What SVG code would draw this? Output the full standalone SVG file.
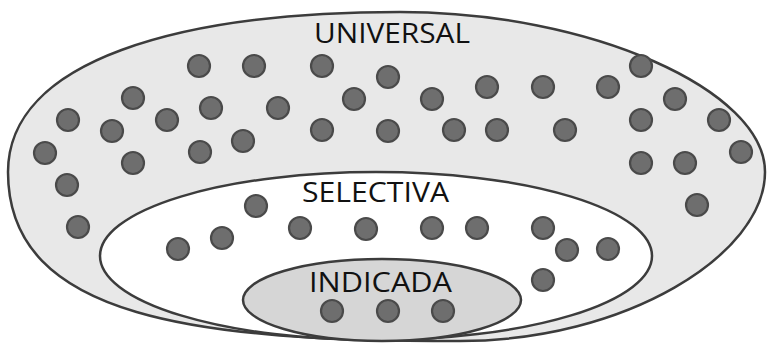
<svg xmlns="http://www.w3.org/2000/svg" width="768" height="344" viewBox="0 0 768 344">
<style>
.ring{stroke:#3c3c3c;stroke-width:2.5}
.dot{fill:#6e6e6e;stroke:#4a4a4a;stroke-width:2.2}
.lbl{font-family:"Open Sans","Liberation Sans",sans-serif;font-size:27px;fill:#111}
</style>
<rect width="768" height="344" fill="#ffffff"/>
<g id="universal">
<path class="ring" fill="#e8e8e8" d="M 8,172 C 8,60 180,12 400,12 C 590,12 765,90 765,172 C 765,255 625,341 460,341 C 200,341 8,320 8,172 Z"/>
<text class="lbl" x="314" y="43" textLength="156" lengthAdjust="spacingAndGlyphs">UNIVERSAL</text>
<g>
<circle class="dot" cx="199" cy="66" r="11"/>
<circle class="dot" cx="254" cy="66" r="11"/>
<circle class="dot" cx="322" cy="66" r="11"/>
<circle class="dot" cx="388" cy="77" r="11"/>
<circle class="dot" cx="641" cy="66" r="11"/>
<circle class="dot" cx="133" cy="98" r="11"/>
<circle class="dot" cx="211" cy="108" r="11"/>
<circle class="dot" cx="278" cy="108" r="11"/>
<circle class="dot" cx="354" cy="99" r="11"/>
<circle class="dot" cx="432" cy="99" r="11"/>
<circle class="dot" cx="487" cy="87" r="11"/>
<circle class="dot" cx="543" cy="87" r="11"/>
<circle class="dot" cx="608" cy="87" r="11"/>
<circle class="dot" cx="675" cy="99" r="11"/>
<circle class="dot" cx="68" cy="120" r="11"/>
<circle class="dot" cx="112" cy="131" r="11"/>
<circle class="dot" cx="167" cy="120" r="11"/>
<circle class="dot" cx="243" cy="141" r="11"/>
<circle class="dot" cx="322" cy="130" r="11"/>
<circle class="dot" cx="388" cy="131" r="11"/>
<circle class="dot" cx="454" cy="130" r="11"/>
<circle class="dot" cx="497" cy="130" r="11"/>
<circle class="dot" cx="565" cy="130" r="11"/>
<circle class="dot" cx="641" cy="120" r="11"/>
<circle class="dot" cx="719" cy="120" r="11"/>
<circle class="dot" cx="45" cy="153" r="11"/>
<circle class="dot" cx="133" cy="163" r="11"/>
<circle class="dot" cx="200" cy="152" r="11"/>
<circle class="dot" cx="641" cy="163" r="11"/>
<circle class="dot" cx="685" cy="163" r="11"/>
<circle class="dot" cx="741" cy="152" r="11"/>
<circle class="dot" cx="67" cy="185" r="11"/>
<circle class="dot" cx="697" cy="205" r="11"/>
<circle class="dot" cx="78" cy="227" r="11"/>
</g>
</g>
<g id="selectiva">
<ellipse class="ring" fill="#ffffff" cx="376" cy="256" rx="276" ry="84"/>
<text class="lbl" x="302" y="202" textLength="147" lengthAdjust="spacingAndGlyphs">SELECTIVA</text>
<g>
<circle class="dot" cx="256" cy="206" r="11"/>
<circle class="dot" cx="178" cy="249" r="11"/>
<circle class="dot" cx="222" cy="238" r="11"/>
<circle class="dot" cx="300" cy="228" r="11"/>
<circle class="dot" cx="366" cy="229" r="11"/>
<circle class="dot" cx="432" cy="228" r="11"/>
<circle class="dot" cx="477" cy="228" r="11"/>
<circle class="dot" cx="543" cy="228" r="11"/>
<circle class="dot" cx="567" cy="250" r="11"/>
<circle class="dot" cx="608" cy="249" r="11"/>
<circle class="dot" cx="543" cy="280" r="11"/>
</g>
</g>
<g id="indicada">
<ellipse class="ring" fill="#d6d6d6" cx="382" cy="300" rx="139" ry="41"/>
<text class="lbl" x="309" y="292" textLength="143" lengthAdjust="spacingAndGlyphs">INDICADA</text>
<g>
<circle class="dot" cx="332" cy="311" r="11"/>
<circle class="dot" cx="388" cy="311" r="11"/>
<circle class="dot" cx="443" cy="311" r="11"/>
</g>
</g>
<g id="connectors"/>
</svg>
